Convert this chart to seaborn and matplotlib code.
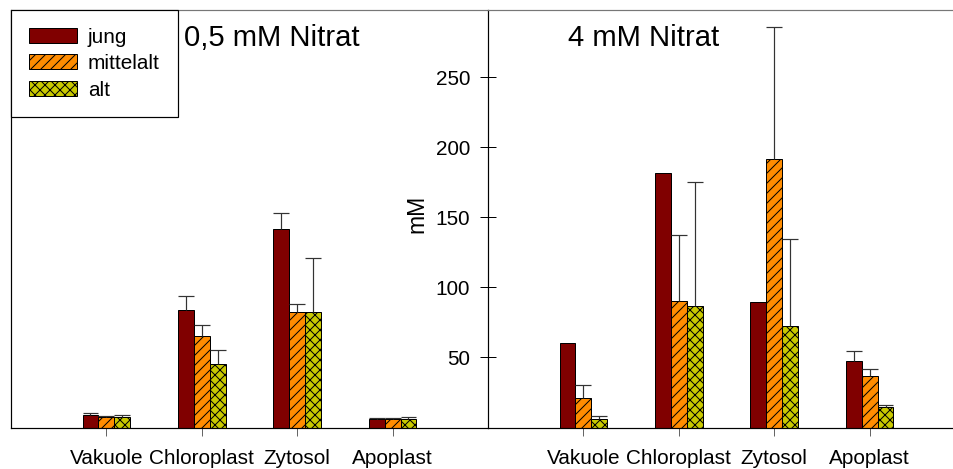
import numpy as np
import pandas as pd
import matplotlib
matplotlib.use("Agg")
import matplotlib.pyplot as plt
from matplotlib.patches import Patch
import seaborn as sns

# ---- data -------------------------------------------------------------
kompartimente = ["Vakuole", "Chloroplast", "Zytosol", "Apoplast"]
alter = ["jung", "mittelalt", "alt"]

# 0,5 mM Nitrat: means and upper standard deviation (mM)
n05_jung = [9.0, 83.9, 141.4, 6.4]
n05_jung_sd = [1.2, 9.7, 11.4, 0.4]
n05_mittelalt = [7.8, 65.1, 82.7, 5.9]
n05_mittelalt_sd = [0.5, 8.1, 5.7, 1.2]
n05_alt = [7.8, 45.4, 82.7, 5.9]
n05_alt_sd = [1.2, 10.2, 38.3, 1.9]

# 4 mM Nitrat (nan = no deviation given)
n4_jung = [60.1, 181.8, 89.6, 47.3]
n4_jung_sd = [np.nan, np.nan, np.nan, 7.5]
n4_mittelalt = [20.9, 90.3, 191.4, 36.6]
n4_mittelalt_sd = [9.7, 47.3, 94.6, 5.4]
n4_alt = [5.9, 86.7, 72.7, 14.3]
n4_alt_sd = [2.3, 88.7, 61.6, 1.8]

y_ticks = [50, 100, 150, 200, 250]
titel = ["0,5 mM Nitrat", "4 mM Nitrat"]

colors = {"jung": "#800000", "mittelalt": "#FF8C00", "alt": "#C8C800"}
hatches = {"jung": "", "mittelalt": "///", "alt": "xxx"}

# ---- figure geometry (pixels) ----------------------------------------
W, H, DPI = 953, 469, 90
PX = 72 / DPI  # points per pixel

sns.set_theme(style="white")
plt.rcParams["font.family"] = ["Liberation Sans", "DejaVu Sans"]
for key in ["text.color", "axes.labelcolor", "xtick.labelcolor", "ytick.labelcolor"]:
    plt.rcParams[key] = "black"
plt.rcParams["hatch.color"] = "black"
plt.rcParams["hatch.linewidth"] = 1.0 * PX

fig = plt.figure(figsize=(W / DPI, H / DPI), dpi=DPI)
fig.patch.set_facecolor("white")

top_px, base_px = 10, 427.5
left_x0, mid_x = 11, 488
ax_l = fig.add_axes([left_x0 / W, 1 - base_px / H, (mid_x - left_x0) / W, (base_px - top_px) / H])
ax_r = fig.add_axes([mid_x / W, 1 - base_px / H, (W - mid_x) / W, (base_px - top_px) / H])


def frame(vals_j, vals_m, vals_a):
    rows = []
    for a, vals in zip(alter, [vals_j, vals_m, vals_a]):
        for k, v in zip(kompartimente, vals):
            rows.append({"Kompartiment": k, "Alter": a, "mM": v})
    return pd.DataFrame(rows)


panels = [
    (ax_l, frame(n05_jung, n05_mittelalt, n05_alt), [n05_jung_sd, n05_mittelalt_sd, n05_alt_sd]),
    (ax_r, frame(n4_jung, n4_mittelalt, n4_alt), [n4_jung_sd, n4_mittelalt_sd, n4_alt_sd]),
]

FS = 20.8 * PX
for ax, df, sds in panels:
    sns.barplot(data=df, x="Kompartiment", y="mM", hue="Alter", order=kompartimente,
                hue_order=alter, palette=colors, saturation=1, width=0.5, edgecolor="black",
                linewidth=1.0 * PX, errorbar=None, legend=False, ax=ax, zorder=2)
    for a, cont, sd in zip(alter, ax.containers, sds):
        for bar, e in zip(cont, sd):
            bar.set_hatch(hatches[a])
            if np.isnan(e):
                continue
            xc = bar.get_x() + bar.get_width() / 2
            h = bar.get_height()
            w = bar.get_width()
            ax.vlines(xc, h, h + e, colors="#333333", lw=1.2 * PX, zorder=3)
            ax.hlines(h + e, xc - w / 2, xc + w / 2, colors="#333333", lw=1.2 * PX, zorder=3)
    ax.set_xlabel("")
    ax.set_ylabel("")
    ax.set_ylim(0, 298)
    ax.set_facecolor("none")
    ax.tick_params(axis="x", direction="out", length=8 * PX, width=1.0 * PX,
                   color="#666666", labelcolor="black", labelsize=FS, pad=13 * PX, bottom=True)
    for s in ["left", "bottom"]:
        ax.spines[s].set_color("black")
        ax.spines[s].set_linewidth(1.2 * PX)
    ax.spines["top"].set_color("#777777")
    ax.spines["top"].set_linewidth(1.2 * PX)
    ax.spines["right"].set_visible(False)

ax_l.set_xlim(-1, 4)
ax_r.set_xlim(-1, -1 + (W - mid_x) / 95.4)
ax_l.tick_params(axis="y", left=False, labelleft=False)
ax_r.set_yticks(y_ticks)
ax_r.set_yticklabels([str(t) for t in y_ticks])
ax_r.tick_params(axis="y", direction="inout", length=16 * PX, width=1.0 * PX,
                 color="black", labelcolor="black", labelsize=FS, pad=10 * PX, left=True)

# titles and y label
fig.text(184 / W, 1 - 46 / H, titel[0], fontsize=29.3 * PX, va="baseline", ha="left", color="black")
fig.text(568 / W, 1 - 46 / H, titel[1], fontsize=29.3 * PX, va="baseline", ha="left", color="black")
fig.text(417 / W, 1 - 214 / H, "mM", fontsize=23 * PX, rotation=90, va="center", ha="center",
         color="black")

# legend
handles = [Patch(facecolor=colors[a], edgecolor="black", hatch=hatches[a], linewidth=1.0 * PX)
           for a in alter]
leg = fig.legend(handles, alter, loc="upper left", bbox_to_anchor=(left_x0 / W, 1 - top_px / H),
                 bbox_transform=fig.transFigure, fontsize=FS, frameon=True, fancybox=False,
                 framealpha=1, edgecolor="black", borderaxespad=0, borderpad=0.85,
                 handlelength=2.3, handleheight=0.72, handletextpad=0.55, labelspacing=0.36)
leg.get_frame().set_linewidth(1.2 * PX)
for t in leg.get_texts():
    t.set_color("black")

fig.savefig("out.png", dpi=DPI, facecolor="white")
